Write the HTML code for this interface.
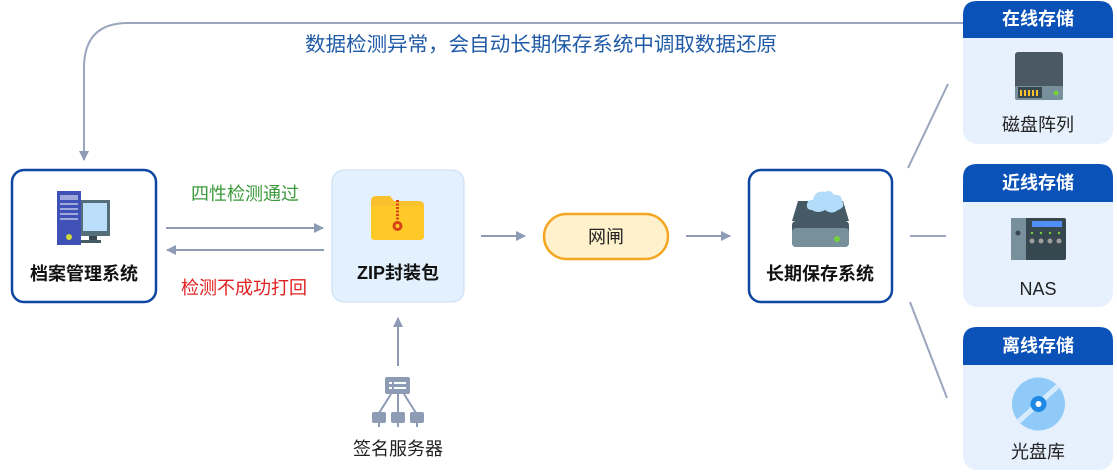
<!DOCTYPE html>
<html><head><meta charset="utf-8"><style>
html,body{margin:0;padding:0;background:#fff;}
svg{display:block;}
text{font-family:"Liberation Sans","Noto Sans CJK SC",sans-serif;}
</style></head><body>
<svg width="1117" height="473" viewBox="0 0 1117 473" xmlns="http://www.w3.org/2000/svg">
<defs>
<marker id="ah" markerWidth="10" markerHeight="10" refX="9" refY="5" orient="auto" markerUnits="userSpaceOnUse">
<path d="M0,0 L10,5 L0,10 z" fill="#8e9bb5"/></marker>
</defs>
<path d="M963,23 L128,23 Q84,23 84,68 L84,160" fill="none" stroke="#9aa6bd" stroke-width="2" marker-end="url(#ah)"/>
<text x="541" y="51" font-size="20" fill="#1f5aa6" text-anchor="middle" textLength="472" lengthAdjust="spacingAndGlyphs">数据检测异常，会自动长期保存系统中调取数据还原</text>

<rect x="12" y="170" width="144" height="132" rx="12" fill="#fff" stroke="#0d47a1" stroke-width="2.5"/>
<rect x="80" y="200" width="30" height="36" fill="#546e7a"/>
<rect x="83" y="203" width="24" height="28" fill="#bbdefb"/>
<rect x="89" y="236" width="8" height="4" fill="#37474f"/>
<rect x="81" y="240" width="20" height="3" fill="#455a64"/>
<rect x="57" y="191" width="24" height="54" fill="#3f51b5"/>
<rect x="60" y="195" width="18" height="5" fill="#9fa8da"/>
<rect x="60" y="203" width="18" height="2" fill="#9fa8da"/>
<rect x="60" y="208" width="18" height="2" fill="#9fa8da"/>
<rect x="60" y="213" width="18" height="2" fill="#9fa8da"/>
<rect x="60" y="218" width="18" height="2" fill="#9fa8da"/>
<circle cx="69" cy="237" r="3" fill="#cddc39"/>
<text x="84" y="280" font-size="18" font-weight="bold" fill="#111" text-anchor="middle">档案管理系统</text>

<line x1="166" y1="228" x2="323" y2="228" stroke="#8e9bb5" stroke-width="2" marker-end="url(#ah)"/>
<line x1="324" y1="250" x2="167" y2="250" stroke="#8e9bb5" stroke-width="2" marker-end="url(#ah)"/>
<text x="245" y="200" font-size="18" fill="#3a9a3a" text-anchor="middle">四性检测通过</text>
<text x="244" y="294" font-size="18" fill="#e02020" text-anchor="middle">检测不成功打回</text>

<rect x="332" y="170" width="132" height="132" rx="12" fill="#e3f0fd" stroke="#c5dcf3" stroke-width="1"/>
<path d="M371,201 Q371,196 376,196 L390,196 L394,201 L419,201 Q424,201 424,206 L424,236 Q424,240 420,240 L375,240 Q371,240 371,236 z" fill="#fbc02d"/>
<path d="M371,206 L424,206 L424,236 Q424,240 420,240 L375,240 Q371,240 371,236 z" fill="#ffca28"/>
<path d="M397.5,200 L397.5,220" stroke="#d84315" stroke-width="3" stroke-dasharray="2,1.5"/>
<circle cx="397.5" cy="226" r="5" fill="#d84315"/><circle cx="397.5" cy="226" r="2" fill="#ffca28"/>
<text x="398" y="279" font-size="18" font-weight="bold" fill="#111" text-anchor="middle">ZIP封装包</text>

<line x1="398" y1="366" x2="398" y2="318" stroke="#8e9bb5" stroke-width="2" marker-end="url(#ah)"/>
<rect x="385" y="377" width="25" height="17" rx="2" fill="#8e9bb5"/>
<rect x="389" y="382" width="3" height="2" fill="#fff"/><rect x="394" y="382" width="12" height="2" fill="#fff"/>
<rect x="389" y="387" width="3" height="2" fill="#fff"/><rect x="394" y="387" width="12" height="2" fill="#fff"/>
<path d="M391,394 L379,413 M398,394 L398,413 M404,394 L416,413" stroke="#8e9bb5" stroke-width="2"/>
<rect x="372" y="412" width="14" height="11" rx="2" fill="#8e9bb5"/><rect x="378" y="423" width="2" height="4" fill="#8e9bb5"/>
<rect x="391" y="412" width="14" height="11" rx="2" fill="#8e9bb5"/><rect x="397" y="423" width="2" height="4" fill="#8e9bb5"/>
<rect x="410" y="412" width="14" height="11" rx="2" fill="#8e9bb5"/><rect x="416" y="423" width="2" height="4" fill="#8e9bb5"/>
<text x="398" y="455" font-size="18" fill="#222" text-anchor="middle">签名服务器</text>

<line x1="481" y1="236" x2="525" y2="236" stroke="#8e9bb5" stroke-width="2" marker-end="url(#ah)"/>
<rect x="544" y="214" width="124" height="45" rx="22.5" fill="#fff1cc" stroke="#f5a623" stroke-width="2.5"/>
<text x="606" y="243" font-size="18" fill="#222" text-anchor="middle">网闸</text>
<line x1="686" y1="236" x2="730" y2="236" stroke="#8e9bb5" stroke-width="2" marker-end="url(#ah)"/>

<rect x="749" y="170" width="143" height="132" rx="12" fill="#fff" stroke="#0d47a1" stroke-width="2.5"/>
<path d="M798,201 L843,201 L849,221 L792,221 z" fill="#455a64"/>
<rect x="792" y="221" width="57" height="26" rx="4" fill="#455a64"/>
<rect x="792" y="228" width="57" height="19" rx="4" fill="#78909c"/>
<circle cx="837" cy="239" r="3" fill="#76d03a"/>
<path d="M812,210 Q806,210 807,204 Q808,199 813,200 Q815,190 825,192 Q831,189 834,195 Q842,194 842,201 Q846,207 838,210 Q832,215 825,210 Q818,214 812,210z" fill="#b3dcfa"/>
<text x="820" y="280" font-size="18" font-weight="bold" fill="#111" text-anchor="middle">长期保存系统</text>

<line x1="908" y1="168" x2="948" y2="84" stroke="#9aa6bd" stroke-width="2"/>
<line x1="910" y1="236" x2="946" y2="236" stroke="#9aa6bd" stroke-width="2"/>
<line x1="910" y1="302" x2="947" y2="398" stroke="#9aa6bd" stroke-width="2"/>

<rect x="963" y="1" width="150" height="143" rx="14" fill="#e6f1fd"/>
<path d="M963,38 L963,15 Q963,1 977,1 L1099,1 Q1113,1 1113,15 L1113,38 z" fill="#0a52b8"/>
<text x="1038" y="25" font-size="18" font-weight="bold" fill="#fff" text-anchor="middle">在线存储</text>
<rect x="1015" y="52" width="48" height="48" rx="3" fill="#4a5963"/>
<rect x="1015" y="86" width="48" height="14" rx="2" fill="#78909c"/>
<rect x="1018" y="87" width="24" height="11" fill="#37474f"/>
<g fill="#fbc02d"><rect x="1020" y="90" width="2" height="6"/><rect x="1024" y="90" width="2" height="6"/><rect x="1028" y="90" width="2" height="6"/><rect x="1032" y="90" width="2" height="6"/><rect x="1036" y="90" width="2" height="6"/></g>
<circle cx="1056" cy="93" r="2.5" fill="#76d03a"/>
<text x="1038" y="131" font-size="18" fill="#222" text-anchor="middle">磁盘阵列</text>

<rect x="963" y="164" width="150" height="143" rx="14" fill="#e6f1fd"/>
<path d="M963,202 L963,178 Q963,164 977,164 L1099,164 Q1113,164 1113,178 L1113,202 z" fill="#0a52b8"/>
<text x="1038" y="189" font-size="18" font-weight="bold" fill="#fff" text-anchor="middle">近线存储</text>
<rect x="1011" y="218" width="55" height="42" rx="2" fill="#37474f"/>
<rect x="1011" y="218" width="15" height="42" fill="#78909c"/>
<circle cx="1018" cy="233" r="2.5" fill="#37474f"/>
<rect x="1032" y="221" width="30" height="6" fill="#4f8ff7"/>
<g fill="#9e9e9e"><circle cx="1032" cy="241" r="2.5"/><circle cx="1041" cy="241" r="2.5"/><circle cx="1050" cy="241" r="2.5"/><circle cx="1059" cy="241" r="2.5"/></g>
<g fill="#76d03a"><circle cx="1032" cy="233" r="1.2"/><circle cx="1041" cy="233" r="1.2"/><circle cx="1050" cy="233" r="1.2"/><circle cx="1059" cy="233" r="1.2"/></g>
<text x="1038" y="295" font-size="18" fill="#222" text-anchor="middle">NAS</text>

<rect x="963" y="327" width="150" height="143" rx="14" fill="#e6f1fd"/>
<path d="M963,365 L963,341 Q963,327 977,327 L1099,327 Q1113,327 1113,341 L1113,365 z" fill="#0a52b8"/>
<text x="1038" y="352" font-size="18" font-weight="bold" fill="#fff" text-anchor="middle">离线存储</text>
<circle cx="1038.5" cy="404" r="26.5" fill="#90caf9"/>
<path d="M1018,422 L1058,386" stroke="#d6ebfb" stroke-width="5"/>
<circle cx="1038.5" cy="404" r="8" fill="#1e88e5"/>
<circle cx="1038.5" cy="404" r="3" fill="#fff"/>
<text x="1038" y="458" font-size="18" fill="#222" text-anchor="middle">光盘库</text>
</svg>
</body></html>
